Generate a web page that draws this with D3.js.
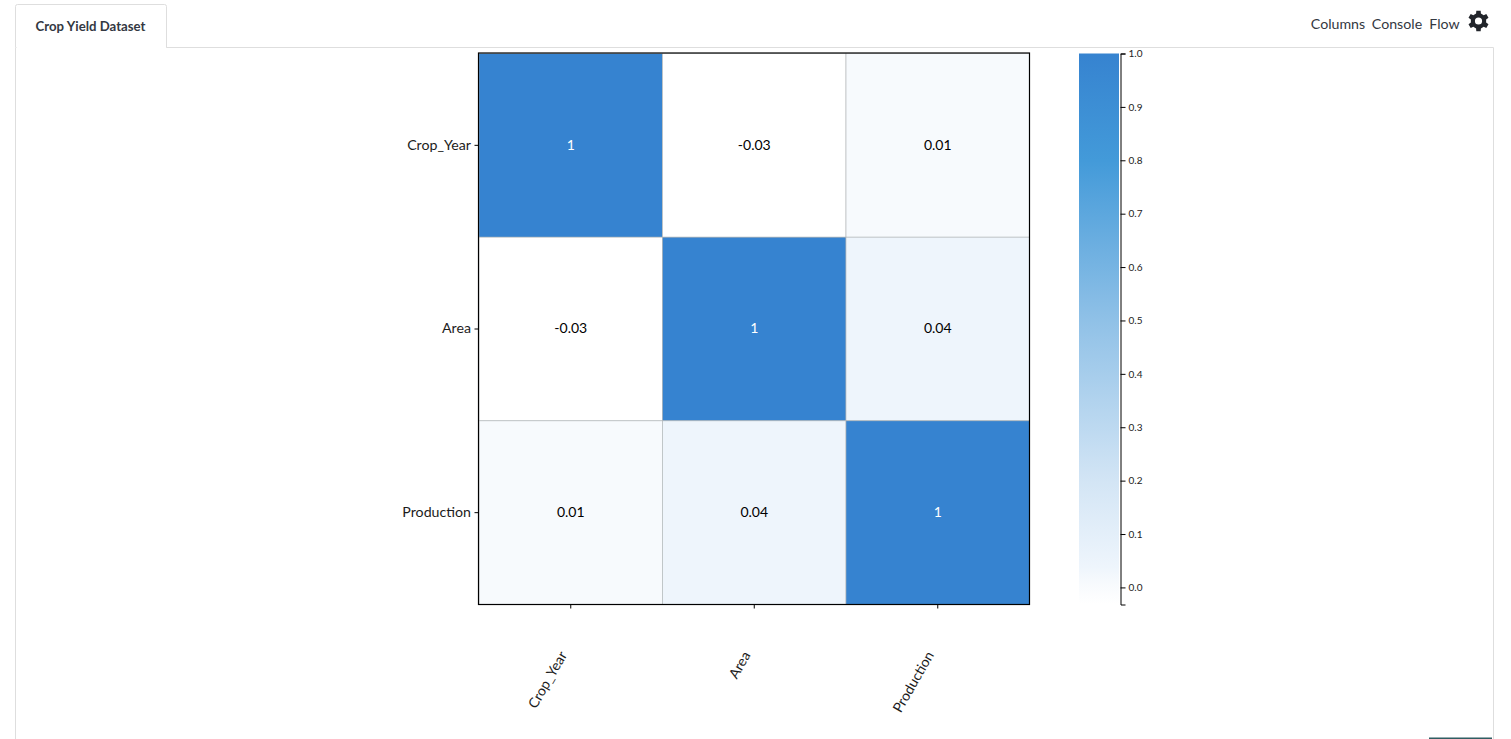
<!DOCTYPE html>
<html>
<head>
<meta charset="utf-8">
<title>Crop Yield Dataset</title>
<script src="https://cdn.jsdelivr.net/npm/d3@7"></script>
<style>
html, body { margin: 0; padding: 0; background: #fff; overflow: hidden; }
text { font-family: Lato, sans-serif; }
</style>
</head>
<body>
<svg id="chart" width="1511" height="739"></svg>
<script>
// correlation matrix
const columns = ['Crop_Year', 'Area', 'Production'];
const row0 = [1, -0.03, 0.01];
const row1 = [-0.03, 1, 0.04];
const row2 = [0.01, 0.04, 1];
const matrix = [row0, row1, row2];
const legendTicks = [0, 0.1, 0.2, 0.3, 0.4, 0.5, 0.6, 0.7, 0.8, 0.9, 1];
const colorStops = [-0.03, 0.01, 0.04, 0.2, 0.5, 0.8, 1];
const colorValues = ['#ffffff', '#f7fafd', '#eef5fc', '#d3e5f5', '#90c1e7', '#439ad9', '#3683d0'];
const navItems = [['Columns', 1338], ['Console', 1397], ['Flow', 1444.5]];

const svg = d3.select('#chart');
const color = d3.scaleLinear().domain(colorStops).range(colorValues);

// page chrome: panel and tab
const chrome = svg.append('g').attr('fill', 'none').attr('stroke', '#dedede');
chrome.append('path').attr('d', 'M15.5,739V47.5H1493.5V739');
chrome.append('path').attr('d', 'M15.5,47.5V6.5a2,2 0 0 1 2,-2H164.5a2,2 0 0 1 2,2V47.5').attr('fill', '#fff');
svg.append('line').attr('x1', 17).attr('x2', 166).attr('y1', 47.5).attr('y2', 47.5).attr('stroke', '#fff');
svg.append('text').attr('x', 90.5).attr('y', 31).attr('text-anchor', 'middle')
  .attr('font-size', 13.2).attr('font-weight', 700).attr('fill', '#333842').text('Crop Yield Dataset');
svg.append('g').selectAll('text').data(navItems).join('text')
  .attr('x', d => d[1]).attr('y', 29).attr('text-anchor', 'middle')
  .attr('font-size', 14.2).attr('fill', '#333842').text(d => d[0]);
svg.append('rect').attr('x', 1429).attr('y', 737.5).attr('width', 63).attr('height', 2).attr('fill', '#2f5d62');

// settings gear
function gearPath(cx, cy, outer, inner, hole, teeth) {
  const step = 2 * Math.PI / teeth;
  let d = '';
  for (let i = 0; i < teeth; i++) {
    const a = i * step - Math.PI / 2;
    const pts = [[inner, a - step * 0.3], [outer, a - step * 0.2], [outer, a + step * 0.2], [inner, a + step * 0.3]];
    pts.forEach((p, j) => {
      d += (i === 0 && j === 0 ? 'M' : 'L') + (cx + p[0] * Math.cos(p[1])).toFixed(2) + ',' + (cy + p[0] * Math.sin(p[1])).toFixed(2);
    });
  }
  d += 'Z';
  d += `M${cx - hole},${cy}a${hole},${hole} 0 1 0 ${hole * 2},0a${hole},${hole} 0 1 0 ${-hole * 2},0Z`;
  return d;
}
svg.append('path').attr('d', gearPath(1478.5, 21, 10.5, 7.8, 3.6, 6))
  .attr('fill', '#22252b').attr('fill-rule', 'evenodd');

// heatmap
const x = d3.scaleBand().domain(columns).range([479, 1029.5]);
const y = d3.scaleBand().domain(columns).range([53.5, 604.5]);

const cells = columns.flatMap((r, i) => columns.map((c, j) => ({ r, c, v: matrix[i][j] })));

svg.append('g').selectAll('rect').data(cells).join('rect')
  .attr('x', d => x(d.c)).attr('y', d => y(d.r))
  .attr('width', x.bandwidth()).attr('height', y.bandwidth())
  .attr('fill', d => color(d.v))
  .attr('stroke', '#aeb2b5').attr('stroke-width', 0.6);

svg.append('g').selectAll('text').data(cells).join('text')
  .attr('x', d => x(d.c) + x.bandwidth() / 2)
  .attr('y', d => y(d.r) + y.bandwidth() / 2 + 4.4)
  .attr('text-anchor', 'middle').attr('font-size', 14)
  .attr('fill', d => d.v > 0.5 ? '#fff' : '#000')
  .text(d => d.v);

svg.append('rect').attr('x', 478.5).attr('y', 53).attr('width', 551).attr('height', 551.5)
  .attr('fill', 'none').attr('stroke', '#000').attr('stroke-width', 1.2);

const xAxis = svg.append('g').attr('transform', 'translate(0,604.5)')
  .call(d3.axisBottom(x).tickSize(4).tickPadding(0));
xAxis.select('.domain').remove();
xAxis.selectAll('text')
  .attr('font-family', 'Lato, sans-serif').attr('font-size', 14).attr('fill', '#1c1c1c')
  .attr('text-anchor', 'end')
  .attr('transform', 'translate(-7.5,48) rotate(-60)')
  .attr('dy', '0.35em').attr('y', 0).attr('x', 0);

const yAxis = svg.append('g').attr('transform', 'translate(478.5,0)')
  .call(d3.axisLeft(y).tickSize(4).tickPadding(3.5));
yAxis.select('.domain').remove();
yAxis.selectAll('text')
  .attr('font-family', 'Lato, sans-serif').attr('font-size', 14.2).attr('fill', '#1c1c1c')
  .attr('dy', '4.2px');

// colour legend
const legendScale = d3.scaleLinear().domain([-0.032, 1]).range([604.5, 53.5]);
const defs = svg.append('defs');
const grad = defs.append('linearGradient').attr('id', 'legendGrad')
  .attr('x1', 0).attr('x2', 0).attr('y1', 1).attr('y2', 0);
grad.selectAll('stop').data(colorStops).join('stop')
  .attr('offset', d => (d + 0.03) / 1.03)
  .attr('stop-color', d => color(d));
svg.append('rect').attr('x', 1079).attr('y', 53.5).attr('width', 40).attr('height', 551)
  .attr('fill', 'url(#legendGrad)');

const legendAxis = svg.append('g').attr('transform', 'translate(1120.5,0)')
  .call(d3.axisRight(legendScale).tickValues(legendTicks).tickFormat(d3.format('.1f')).tickSize(5).tickPadding(3));
legendAxis.selectAll('text')
  .attr('font-family', 'Liberation Sans, Arial, sans-serif').attr('font-size', 10).attr('fill', '#222');
</script>
</body>
</html>
